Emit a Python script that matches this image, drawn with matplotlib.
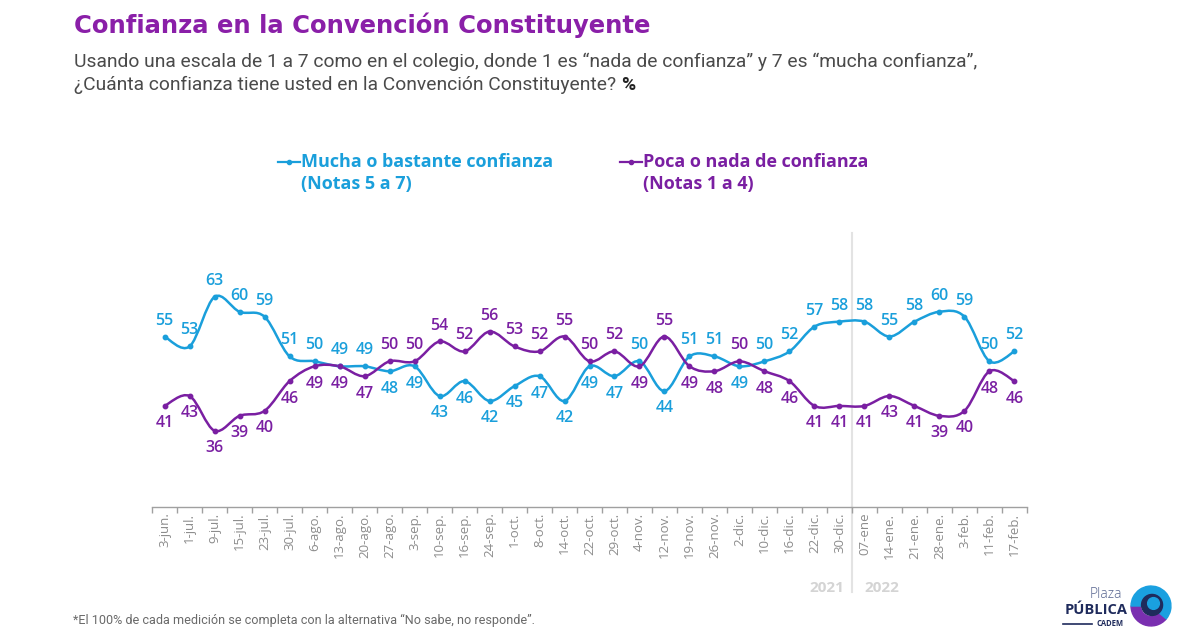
import numpy as np
import matplotlib
matplotlib.use("Agg")
import matplotlib.pyplot as plt
from matplotlib.path import Path
from matplotlib.patches import PathPatch, Wedge, Circle
from matplotlib.lines import Line2D
from matplotlib.ticker import FixedLocator, NullFormatter

# --- data ---
fechas = ["3-jun.", "1-jul.", "9-jul.", "15-jul.", "23-jul.", "30-jul.", "6-ago.",
          "13-ago.", "20-ago.", "27-ago.", "3-sep.", "10-sep.", "16-sep.", "24-sep.",
          "1-oct.", "8-oct.", "14-oct.", "22-oct.", "29-oct.", "4-nov.", "12-nov.",
          "19-nov.", "26-nov.", "2-dic.", "10-dic.", "16-dic.", "22-dic.", "30-dic.",
          "07-ene", "14-ene.", "21-ene.", "28-ene.", "3-feb.", "11-feb.", "17-feb."]
mucha = [55, 53, 63, 60, 59, 51, 50, 49, 49, 48, 49, 43, 46, 42, 45, 47, 42, 49,
         47, 50, 44, 51, 51, 49, 50, 52, 57, 58, 58, 55, 58, 60, 59, 50, 52]
poca = [41, 43, 36, 39, 40, 46, 49, 49, 47, 50, 50, 54, 52, 56, 53, 52, 55, 50,
        52, 49, 55, 49, 48, 50, 48, 46, 41, 41, 41, 43, 41, 39, 40, 48, 46]
anios = ["2021", "2022"]

AZUL = "#1a9fdb"
MORADO = "#7a1fa2"
TITULO = "#8a1fa8"


def smooth_path(xs, ys):
    # Catmull-Rom style cubic Bezier through every point (like a smoothed line in Excel)
    pts = np.column_stack([xs, ys]).astype(float)
    n = len(pts)
    verts = [pts[0]]
    codes = [Path.MOVETO]
    for i in range(n - 1):
        p0 = pts[i - 1] if i > 0 else pts[i]
        p1 = pts[i]
        p2 = pts[i + 1]
        p3 = pts[i + 2] if i + 2 < n else pts[i + 1]
        c1 = p1 + (p2 - p0) / 6.0
        c2 = p2 - (p3 - p1) / 6.0
        verts += [c1, c2, p2]
        codes += [Path.CURVE4] * 3
    return Path(verts, codes)


fig = plt.figure(figsize=(12, 6.33), dpi=100)
ax = fig.add_axes([0.1267, 0.199, 0.7291, 0.433])

x = np.arange(len(fechas))
for serie, color in [(mucha, AZUL), (poca, MORADO)]:
    ax.add_patch(PathPatch(smooth_path(x, serie), fill=False, edgecolor=color,
                           lw=1.8, capstyle="round", joinstyle="round"))
    ax.plot(x, serie, "o", color=color, ms=3.2, zorder=3)

# data labels: higher series above, lower series below
for i in range(len(fechas)):
    m, p = mucha[i], poca[i]
    m_up = m >= p
    for v, color, up in [(m, AZUL, m_up), (p, MORADO, not m_up)]:
        ax.annotate(str(v), (i, v), xytext=(0, 11.5 if up else -12.5),
                    textcoords="offset points", ha="center", va="center",
                    color=color, fontsize=11.5, fontweight="semibold",
                    family="Open Sans")

ax.set_xlim(-0.5, len(fechas) - 0.5)
ax.set_ylim(20.6, 75.9)

for s in ["top", "right", "left"]:
    ax.spines[s].set_visible(False)
ax.spines["bottom"].set_color("#a0a0a0")
ax.spines["bottom"].set_linewidth(1.0)
ax.set_yticks([])

ax.xaxis.set_major_locator(FixedLocator(np.arange(-0.5, len(fechas), 1.0)))
ax.xaxis.set_major_formatter(NullFormatter())
ax.set_xticks(x, minor=True)
ax.set_xticklabels(fechas, minor=True, rotation=90, fontsize=9.5,
                   color="#8c8c8c", family="Open Sans")
ax.tick_params(axis="x", which="major", length=4, color="#a0a0a0", width=1)
ax.tick_params(axis="x", which="minor", length=0, pad=4)

# year divider
ax.plot([27.5, 27.5], [0.0, 1.0], transform=ax.get_xaxis_transform(),
        color="#e3e3e3", lw=1.5, zorder=0, clip_on=False)
ax.plot([27.5, 27.5], [-0.31, 0.0], transform=ax.get_xaxis_transform(),
        color="#e3e3e3", lw=1.5, zorder=0, clip_on=False)
fig.text(827 / 1200, 1 - 588 / 633, anios[0], ha="center", va="center",
         fontsize=11, fontweight="bold", color="#d4d4d4", family="Open Sans")
fig.text(882 / 1200, 1 - 588 / 633, anios[1], ha="center", va="center",
         fontsize=11, fontweight="bold", color="#d4d4d4", family="Open Sans")

# titles
fig.text(74 / 1200, 1 - 25 / 633, "Confianza en la Convención Constituyente",
         ha="left", va="center", fontsize=17.5, fontweight="bold", color=TITULO,
         family="DejaVu Sans")
fig.text(74 / 1200, 1 - 62 / 633,
         "Usando una escala de 1 a 7 como en el colegio, donde 1 es “nada de confianza” y 7 es “mucha confianza”,",
         ha="left", va="center", fontsize=13.9, color="#4a4a4a", family="Roboto")
t2 = fig.text(74 / 1200, 1 - 85 / 633,
              "¿Cuánta confianza tiene usted en la Convención Constituyente? ",
              ha="left", va="center", fontsize=13.9, color="#4a4a4a", family="Roboto")
fig.canvas.draw()
bb = t2.get_window_extent()
fig.text(bb.x1 / 1200, 1 - 85 / 633, "%", ha="left", va="center", fontsize=13.9,
         fontweight="bold", color="#222222", family="Roboto")

# legend
for x0, color, l1, l2 in [(278, AZUL, "Mucha o bastante confianza", "(Notas 5 a 7)"),
                          (620, MORADO, "Poca o nada de confianza", "(Notas 1 a 4)")]:
    fig.add_artist(Line2D([x0 / 1200, (x0 + 22) / 1200], [1 - 162 / 633] * 2,
                          color=color, lw=1.6))
    fig.add_artist(Line2D([(x0 + 11) / 1200], [1 - 162 / 633], marker="o",
                          color=color, ms=3))
    fig.text((x0 + 23) / 1200, 1 - 162 / 633, l1, ha="left", va="center",
             fontsize=13, fontweight="bold", color=color, family="Open Sans")
    fig.text((x0 + 23) / 1200, 1 - 184 / 633, l2, ha="left", va="center",
             fontsize=13, fontweight="bold", color=color, family="Open Sans")

# footnote
fig.text(73 / 1200, 1 - 620 / 633,
         "*El 100% de cada medición se completa con la alternativa “No sabe, no responde”.",
         ha="left", va="center", fontsize=9.1, color="#6a6a6a", family="Roboto")

# logo
fig.text(1106 / 1200, 1 - 595 / 633, "Plaza", ha="center", va="center",
         fontsize=10, color="#56648f", family="Open Sans", fontweight="light")
fig.text(1096 / 1200, 1 - 610 / 633, "PÚBLICA", ha="center", va="center",
         fontsize=10.5, color="#1f2b5c", family="Open Sans", fontweight="bold")
fig.text(1110 / 1200, 1 - 624 / 633, "CADEM", ha="center", va="center",
         fontsize=5.5, color="#1f2b5c", family="Open Sans", fontweight="bold")
fig.add_artist(Line2D([1063 / 1200, 1092 / 1200], [1 - 624 / 633] * 2,
                      color="#1f2b5c", lw=1.2))
lax = fig.add_axes([1130 / 1200, 1 - 627 / 633, 42 / 1200, 42 / 633])
lax.set_aspect("equal")
lax.set_xlim(-1, 1)
lax.set_ylim(-1, 1)
lax.axis("off")
lax.add_patch(Wedge((0, 0), 0.95, 180, 320, width=0.45, color="#7a2fb0"))
lax.add_patch(Wedge((0, 0), 0.95, -40, 180, width=0.45, color="#1aa0e0"))
lax.add_patch(Circle((0.05, 0.05), 0.5, color="#1f2b5c"))
lax.add_patch(Circle((0.12, 0.12), 0.28, color="#1aa0e0"))

fig.savefig("out.png", dpi=100)
